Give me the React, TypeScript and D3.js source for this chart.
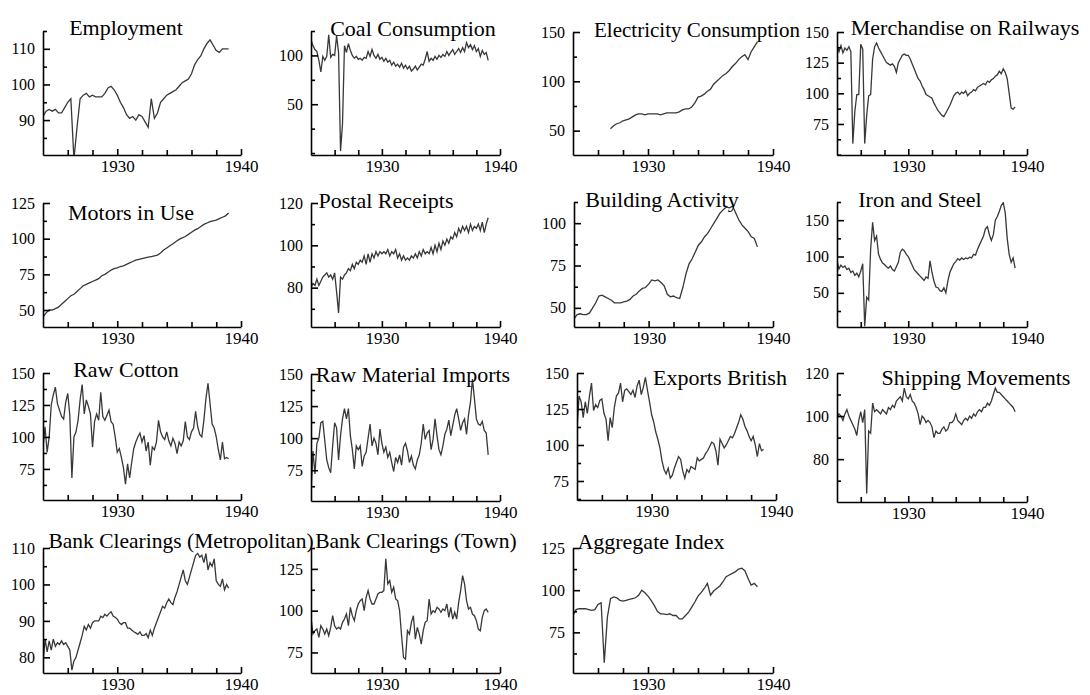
import React, { useEffect, useRef } from 'react';
import * as d3 from 'd3';

// quarterly series: 61 points, 1924.00 .. 1939.00
const employment = [
  91, 92.5, 93, 92.5, 93, 92, 92, 93.5, 95, 96, 79, 88,
  96, 97, 97.5, 96.5, 97, 96.5, 96.5, 96.5, 97.5, 99, 99.5, 98.5,
  97, 95, 93.5, 91.5, 90.5, 91, 90, 91.5, 91, 89.5, 88, 96,
  90.5, 92, 95, 96, 97, 97.5, 98, 98.5, 99.5, 100.5, 101, 101.5,
  103, 105.5, 107, 108, 110, 111.5, 112.5, 111, 109.5, 109, 110, 110, 110,
];
const electricity = [
  null, null, null, null, null, null, null, null, null, null, null, null,
  52, 55, 57, 58, 60, 61, 62, 64, 66, 67, 67, 66,
  67, 67, 67, 67, 66, 67, 68, 68, 68, 68, 69, 71,
  72, 72, 74, 78, 84, 85, 87, 90, 92, 97, 100, 103,
  106, 108, 111, 115, 118, 122, 125, 127, 122, 130, 135, 140, null,
];
const motors = [
  45, 48, 50, 50, 51, 52, 54, 56, 58, 60, 61, 63,
  65, 67, 68, 69, 70, 71, 72, 74, 75, 76.5, 78, 79,
  79.5, 80.5, 81, 82, 83, 84, 85, 85.5, 86, 86.5, 87, 87.5,
  88, 88.5, 90, 92, 93.5, 95, 96.5, 98, 99.5, 100.5, 101.5, 103,
  104.5, 106, 107, 108.5, 110, 111, 112, 112.5, 113, 114, 115, 116, 118,
];
const building = [
  43.5, 46, 46.5, 46, 46, 47, 50, 53, 57, 57.5, 56.5, 55.5,
  54.5, 53, 53, 53, 53.5, 54, 55, 57, 58, 60, 61.5, 62,
  64, 66.5, 66, 66.5, 65, 63, 58, 56.5, 57, 56, 55.5, 62,
  70, 76, 79, 83, 87, 89, 92, 94, 97, 100, 103, 106,
  108, 109.5, 109, 110, 106, 102, 99, 97, 95, 92, 91, 86, null,
];
const aggregate = [
  85, 88.5, 89, 89, 89, 88.5, 88, 88.5, 91.5, 92.5, 57, 84,
  95, 96, 95.5, 94, 93.5, 94, 94.5, 95, 95.5, 97, 100, 98.5,
  96.5, 94, 91, 87.5, 86, 86, 85.5, 86, 85, 85, 83, 83,
  85, 87, 90, 93, 96.5, 98.5, 101, 104, 97, 99.5, 101, 102.5,
  105, 108, 109, 110, 111, 112.5, 113, 111.5, 107, 103, 104, 102, null,
];

// bi-monthly series: 91 points, 1924.00 .. 1939.00
const coal = [
  116, 110, 106, 104, 95, 83, 99, 95, 99, 121, 98, 101,
  100, 120, 103, 2, 30, 110, 103, 112, 105, 100, 97, 99,
  96, 97, 95, 98, 97, 104, 99, 106, 100, 97, 101, 96,
  98, 94, 97, 93, 95, 90, 93, 89, 91, 88, 92, 87,
  90, 86, 89, 84, 86, 89, 85, 88, 91, 90, 96, 104,
  94, 97, 95, 99, 96, 100, 98, 101, 99, 104, 100, 103,
  106, 101, 104, 107, 103, 108, 104, 113, 108, 111, 106, 110,
  104, 107, 99, 105, 101, 103, 95,
];
const merchandise = [
  140, 134, 139, 133, 137, 135, 138, 134, 59, 85, 99, 99,
  140, 136, 59, 82, 98, 99, 128, 138, 141, 137, 134, 131,
  128, 125, 124, 123, 124, 122, 117, 125, 128, 131, 132, 131,
  131, 128, 124, 120, 116, 112, 110, 106, 103, 99, 98, 97,
  96, 92, 89, 86, 84, 82, 81, 84, 87, 90, 94, 98,
  100, 101, 99, 101, 100, 102, 98, 100, 101, 103, 102, 105,
  106, 107, 108, 107, 110, 109, 111, 112, 114, 115, 118, 116,
  120, 117, 112, 100, 88, 87, 89,
];
const postal = [
  80, 82, 81, 84, 81, 83, 85, 86, 87, 85, 86, 84,
  87, 78, 68, 85, 84, 86, 87, 89, 88, 91, 89, 92,
  91, 93, 92, 95, 91, 96, 92, 96, 94, 97, 95, 97,
  96, 97, 96, 98, 95, 97, 96, 98, 94, 96, 93, 95,
  93, 94, 93, 95, 94, 96, 94, 97, 95, 98, 96, 97,
  96, 99, 96, 100, 97, 101, 98, 102, 100, 103, 101, 104,
  103, 106, 104, 108, 106, 109, 107, 109, 106, 110, 107, 109,
  108, 110, 107, 111, 106, 110, 113,
];
const ironSteel = [
  94, 83, 88, 85, 87, 82, 84, 78, 80, 74, 77, 72,
  80, 90, 4, 44, 40, 110, 147, 122, 128, 103, 96, 91,
  89, 86, 84, 87, 82, 80, 86, 92, 106, 110, 108, 103,
  100, 94, 88, 82, 79, 76, 73, 70, 67, 72, 70, 94,
  78, 66, 58, 57, 53, 52, 57, 50, 66, 78, 84, 90,
  93, 97, 95, 98, 96, 98, 97, 99, 98, 103, 102, 110,
  116, 122, 128, 138, 141, 130, 122, 130, 150, 155, 162, 170,
  174, 160, 125, 103, 92, 98, 84,
];
const rawCotton = [
  92, 108, 88, 100, 125, 133, 139, 126, 121, 116, 114, 127,
  134, 117, 68, 100, 104, 113, 129, 141, 118, 129, 124, 118,
  92, 112, 118, 113, 135, 116, 113, 117, 121, 112, 110, 100,
  88, 91, 84, 76, 63, 79, 68, 80, 91, 96, 100, 103,
  96, 101, 89, 96, 78, 92, 90, 96, 113, 104, 100, 98,
  104, 97, 93, 99, 95, 87, 96, 93, 97, 112, 100, 98,
  104, 107, 120, 108, 102, 100, 113, 130, 142, 126, 110, 107,
  100, 90, 82, 96, 83, 84, 83,
];
const rawMaterial = [
  56, 90, 72, 96, 100, 112, 113, 98, 83, 77, 73, 94,
  112, 108, 83, 102, 115, 123, 115, 123, 102, 91, 76, 94,
  91, 94, 78, 86, 89, 100, 111, 94, 100, 96, 87, 107,
  96, 89, 93, 85, 89, 81, 74, 85, 81, 87, 79, 93,
  96, 90, 81, 86, 79, 76, 83, 87, 96, 111, 99, 104,
  106, 91, 99, 115, 102, 91, 87, 94, 103, 107, 114, 102,
  110, 118, 123, 115, 106, 112, 115, 103, 118, 128, 146, 131,
  115, 111, 110, 113, 106, 104, 87,
];
const exportsBritish = [
  111, 134, 130, 119, 130, 122, 134, 143, 124, 128, 126, 131,
  132, 122, 118, 103, 119, 112, 126, 134, 136, 143, 130, 138,
  139, 137, 135, 138, 133, 141, 145, 135, 140, 147, 138, 130,
  121, 116, 109, 104, 98, 89, 83, 80, 84, 77, 79, 84,
  88, 92, 90, 82, 77, 83, 81, 85, 84, 83, 91, 89,
  90, 91, 94, 96, 99, 102, 101, 96, 86, 104, 101, 98,
  100, 103, 106, 105, 108, 112, 116, 121, 118, 113, 110, 106,
  103, 106, 100, 92, 101, 96, 97,
];
const shipping = [
  99, 101, 100, 98, 101, 103, 100, 98, 96, 94, 91, 98,
  102, 97, 103, 64, 93, 92, 106, 102, 103, 102, 101, 103,
  102, 101, 104, 103, 105, 104, 107, 108, 109, 107, 113, 109,
  108, 110, 107, 106, 104, 101, 96, 100, 99, 97, 98, 97,
  95, 90, 93, 92, 92, 94, 95, 93, 94, 97, 97, 98,
  101, 98, 97, 96, 98, 99, 98, 100, 99, 101, 100, 102,
  103, 102, 104, 104, 106, 105, 107, 110, 113, 111, 111, 110,
  109, 108, 107, 106, 105, 104, 102,
];
const bankMetro = [
  78.5, 85, 81.5, 84.5, 82, 85, 83, 84, 83.5, 84.5, 83.5, 84,
  83, 82, 76.5, 79, 80, 82, 84, 86, 88.5, 87.5, 89, 88,
  89.5, 90, 90, 90, 91.3, 90.9, 91.8, 91.3, 92, 92.5, 91.3, 91,
  90.5, 89.5, 89, 89.5, 89.5, 88, 88, 87.5, 87, 86.7, 86.3, 87,
  86, 86, 86.5, 85.4, 87.5, 86, 88, 89.5, 91, 92.5, 94, 93.5,
  95, 96, 95, 94.5, 96.5, 98, 100, 102, 104, 101, 100, 102,
  104, 106, 108, 108.5, 107.5, 108, 106, 108.5, 104, 106, 105, 107,
  101, 100, 99.5, 101.5, 98.5, 100, 99,
];
const bankTown = [
  96, 86, 88, 89, 84, 91, 89, 86, 89, 85, 90, 97,
  91, 89, 90, 89, 93, 95, 98, 91, 102, 97, 94, 100,
  104, 106, 107, 100, 108, 112, 107, 104, 104, 107, 110, 111,
  111, 112, 131, 116, 118, 111, 114, 107, 106, 100, 85, 72,
  71, 88, 86, 93, 97, 83, 90, 86, 80, 88, 93, 94,
  107, 98, 100, 99, 102, 101, 99, 101, 100, 104, 96, 102,
  95, 99, 95, 105, 112, 121, 116, 106, 101, 102, 98, 97,
  94, 89, 88, 96, 100, 101, 99,
];

// axis tick labels
const xLabels = [1930, 1940];
const xMinor = [1926, 1928, 1932, 1934, 1936, 1938];
const employmentTicks = [90, 100, 110];
const coalTicks = [50, 100];
const electricityTicks = [50, 100, 150];
const merchandiseTicks = [75, 100, 125, 150];
const motorsTicks = [50, 75, 100, 125];
const postalTicks = [80, 100, 120];
const buildingTicks = [50, 75, 100];
const ironTicks = [50, 100, 150];
const cottonTicks = [75, 100, 125, 150];
const rawMaterialTicks = [75, 100, 125, 150];
const exportsTicks = [75, 100, 125, 150];
const shippingTicks = [80, 100, 120];
const bankMetroTicks = [80, 90, 100, 110];
const bankTownTicks = [75, 100, 125];
const aggregateTicks = [75, 100, 125];

// layout of each small plot: axis box, y range, minor step, title anchor
const panels = [
  { title: 'Employment', data: employment, ticks: employmentTicks, dom: [80.2, 115], minor: 5, x0: 43, x1: 241, y0: 31, y1: 155, tx: 126, ty: 35 },
  { title: 'Coal Consumption', data: coal, ticks: coalTicks, dom: [-2, 125], minor: 25, x0: 311, x1: 500, y0: 31, y1: 155, tx: 413, ty: 36 },
  { title: 'Electricity Consumption', data: electricity, ticks: electricityTicks, dom: [25.3, 150], minor: 25, x0: 573, x1: 773, y0: 32, y1: 155, tx: 697, ty: 37, fs: 21 },
  { title: 'Merchandise on Railways', data: merchandise, ticks: merchandiseTicks, dom: [49.7, 150], minor: 12.5, x0: 837, x1: 1027, y0: 32, y1: 155, tx: 965, ty: 35 },
  { title: 'Motors in Use', data: motors, ticks: motorsTicks, dom: [38.1, 125], minor: 12.5, x0: 43, x1: 241, y0: 203, y1: 327, tx: 131, ty: 220 },
  { title: 'Postal Receipts', data: postal, ticks: postalTicks, dom: [61.4, 120], minor: 10, x0: 311, x1: 500, y0: 203, y1: 327, tx: 386, ty: 208 },
  { title: 'Building Activity', data: building, ticks: buildingTicks, dom: [38.7, 112.5], minor: 12.5, x0: 574, x1: 773, y0: 202, y1: 327, tx: 662, ty: 207 },
  { title: 'Iron and Steel', data: ironSteel, ticks: ironTicks, dom: [3, 175], minor: 25, x0: 837, x1: 1027, y0: 202, y1: 327, tx: 920, ty: 207 },
  { title: 'Raw Cotton', data: rawCotton, ticks: cottonTicks, dom: [50.7, 150], minor: 12.5, x0: 43, x1: 241, y0: 373, y1: 500, tx: 126, ty: 377 },
  { title: 'Raw Material Imports', data: rawMaterial, ticks: rawMaterialTicks, dom: [51, 150], minor: 12.5, x0: 311, x1: 500, y0: 374, y1: 501, tx: 413, ty: 382 },
  { title: 'Exports British', data: exportsBritish, ticks: exportsTicks, dom: [61.8, 150], minor: 12.5, x0: 577, x1: 776, y0: 373, y1: 500, tx: 720, ty: 385 },
  { title: 'Shipping Movements', data: shipping, ticks: shippingTicks, dom: [60.1, 120], minor: 10, x0: 837, x1: 1027, y0: 373, y1: 502, tx: 976, ty: 385 },
  { title: 'Bank Clearings (Metropolitan)', data: bankMetro, ticks: bankMetroTicks, dom: [75.7, 110], minor: 5, x0: 43, x1: 241, y0: 548, y1: 673, tx: 181, ty: 548, fs: 21.5 },
  { title: 'Bank Clearings (Town)', data: bankTown, ticks: bankTownTicks, dom: [62.7, 137.5], minor: 12.5, x0: 311, x1: 500, y0: 548, y1: 673, tx: 416, ty: 548, fs: 21.5 },
  { title: 'Aggregate Index', data: aggregate, ticks: aggregateTicks, dom: [50.9, 125], minor: 12.5, x0: 573, x1: 773, y0: 548, y1: 673, tx: 651, ty: 549 },
];

const FONT = '"Liberation Serif", "Times New Roman", serif';

const App = () => {
  const svgRef = useRef<SVGSVGElement>(null);

  useEffect(() => {
    const svg = d3.select(svgRef.current);
    svg.selectAll('*').remove();

    panels.forEach((p, pi) => {
      const x = d3.scaleLinear().domain([1924, 1940]).range([p.x0, p.x1]);
      const y = d3.scaleLinear().domain(p.dom).range([p.y1, p.y0]);
      const g = svg.append('g');

      // clip the series to the axis box
      const clipId = `clip-${pi}`;
      g.append('clipPath').attr('id', clipId)
        .append('rect')
        .attr('x', p.x0).attr('y', p.y0)
        .attr('width', p.x1 - p.x0).attr('height', p.y1 - p.y0);

      const n = p.data.length;
      const line = d3.line<number | null>()
        .defined(d => d != null)
        .x((d, i) => x(1924 + (i * 15) / (n - 1)))
        .y(d => y(d as number));

      g.append('path')
        .datum(p.data)
        .attr('clip-path', `url(#${clipId})`)
        .attr('fill', 'none')
        .attr('stroke', '#383838')
        .attr('stroke-width', 1.3)
        .attr('stroke-linejoin', 'miter')
        .attr('d', line);

      // y axis, ticks pointing inwards
      const minorY = d3.range(Math.ceil(p.dom[0] / p.minor) * p.minor, p.dom[1] + 0.01, p.minor)
        .filter(v => !p.ticks.includes(v));
      const yAxis = g.append('g')
        .attr('transform', `translate(${p.x0},0)`)
        .call(d3.axisLeft(y).tickValues(p.ticks).tickSize(-7).tickSizeOuter(0).tickPadding(8));
      g.append('g')
        .attr('transform', `translate(${p.x0},0)`)
        .call(d3.axisLeft(y).tickValues(minorY).tickSize(-4).tickSizeOuter(0).tickFormat(() => ''))
        .call(a => a.select('.domain').remove());

      // x axis
      const xAxis = g.append('g')
        .attr('transform', `translate(0,${p.y1})`)
        .call(d3.axisBottom(x).tickValues(xLabels).tickSize(-6).tickSizeOuter(0).tickPadding(5).tickFormat(d3.format('d')));
      g.append('g')
        .attr('transform', `translate(0,${p.y1})`)
        .call(d3.axisBottom(x).tickValues(xMinor).tickSize(-5).tickSizeOuter(0).tickFormat(() => ''))
        .call(a => a.select('.domain').remove());

      g.selectAll('.domain, .tick line').attr('stroke', '#000').attr('stroke-width', 1.6);
      yAxis.selectAll('text')
        .attr('fill', '#000')
        .style('font-family', FONT)
        .style('font-size', '16px');
      xAxis.selectAll('text')
        .attr('fill', '#000')
        .style('font-family', FONT)
        .style('font-size', '17px');

      g.append('text')
        .attr('x', p.tx)
        .attr('y', p.ty)
        .attr('text-anchor', 'middle')
        .style('font-family', FONT)
        .style('font-size', `${p.fs ?? 22}px`)
        .attr('fill', '#000')
        .text(p.title);
    });
  }, []);

  return (
    <svg
      ref={svgRef}
      width={1090}
      height={695}
      style={{ position: 'absolute', left: 0, top: 0, background: '#fff' }}
    />
  );
};

export default App;
